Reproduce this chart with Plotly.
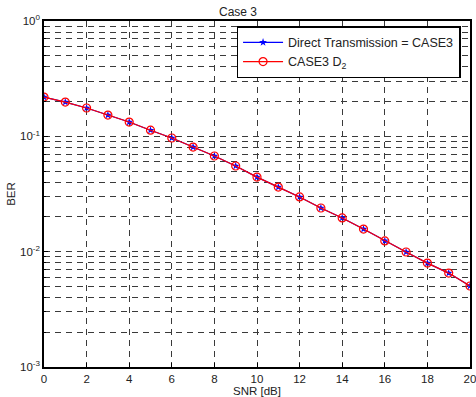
import plotly.graph_objects as go

snr = list(range(0, 21))
ber_direct = [0.219, 0.198, 0.176, 0.153, 0.133, 0.113, 0.0967, 0.0807, 0.0675, 0.0553,
              0.0443, 0.0363, 0.0298, 0.0239, 0.0196, 0.0157, 0.0124, 0.00993, 0.00796,
              0.00652, 0.00504]
ber_d2 = [0.219, 0.198, 0.176, 0.153, 0.133, 0.113, 0.0967, 0.0807, 0.0675, 0.0553,
          0.0443, 0.0363, 0.0298, 0.0239, 0.0196, 0.0157, 0.0124, 0.00993, 0.00796,
          0.00652, 0.00504]
x_ticks = [0, 2, 4, 6, 8, 10, 12, 14, 16, 18, 20]
y_ticks = [1e-3, 1e-2, 1e-1, 1]
y_ticktext = ["10<sup>-3</sup>", "10<sup>-2</sup>", "10<sup>-1</sup>", "10<sup>0</sup>"]
minor_vals = [m * 10 ** e for e in (-3, -2, -1) for m in range(2, 10)]

fig = go.Figure()
fig.add_trace(go.Scatter(
    x=snr, y=ber_direct, mode="lines+markers", name="Direct Transmission = CASE3",
    line=dict(color="#0000ff", width=1.2),
    marker=dict(symbol="star", size=6, color="#0000ff"),
))
fig.add_trace(go.Scatter(
    x=snr, y=ber_d2, mode="lines+markers", name="CASE3 D<sub>2</sub>",
    line=dict(color="#ff0000", width=1.2),
    marker=dict(symbol="circle-open", size=8, color="#ff0000", line=dict(width=1.2)),
))

grid_col = "#3a3a3a"
gdash = "6px,5px"
fig.update_layout(
    width=476, height=397,
    margin=dict(l=44, r=4, t=21, b=30),
    paper_bgcolor="white", plot_bgcolor="white",
    font=dict(family="Liberation Sans, Arial", size=11.5, color="#222222"),
    title=dict(text="Case 3", x=0.5, xanchor="center", y=1 - 12 / 397, yanchor="middle",
               font=dict(size=12, color="#222222")),
    showlegend=True,
    legend=dict(x=0.452, y=0.985, xanchor="left", yanchor="top",
                bgcolor="white", bordercolor="black", borderwidth=1.5,
                itemwidth=40,
                font=dict(size=12.5, color="#222222"), tracegroupgap=4),
    xaxis=dict(
        range=[0, 20], tickvals=x_ticks, showgrid=True, gridcolor=grid_col,
        griddash=gdash, gridwidth=1, zeroline=False, automargin=False,
        showline=True, linecolor="black", linewidth=1.5, mirror=True,
        ticks="inside", ticklen=4, tickcolor="black", ticklabeloverflow="allow",
        title=dict(text="SNR [dB]", standoff=7, font=dict(size=11.5)),
    ),
    yaxis=dict(
        type="log", range=[-3, 0], tickvals=y_ticks, ticktext=y_ticktext,
        showgrid=True, gridcolor=grid_col, griddash=gdash, gridwidth=1,
        zeroline=False, showline=True, linecolor="black", linewidth=1.5, mirror=True,
        ticks="inside", ticklen=4, tickcolor="black",
        minor=dict(tickvals=minor_vals, showgrid=True, gridcolor=grid_col,
                   griddash=gdash, gridwidth=1, ticks="inside", ticklen=2,
                   tickcolor="black"),
        title=dict(text="BER", standoff=2, font=dict(size=11.5)),
    ),
)

fig.write_html("out.html")
